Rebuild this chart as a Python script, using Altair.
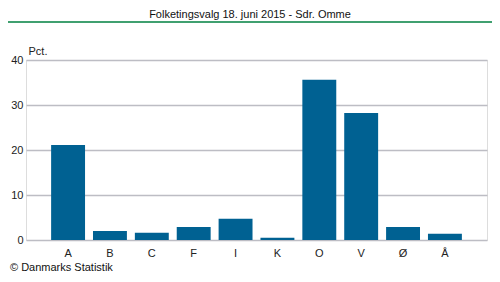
import altair as alt
import pandas as pd

parties = ["A", "B", "C", "F", "I", "K", "O", "V", "Ø", "Å"]
values = [21.1, 2.0, 1.6, 2.9, 4.7, 0.5, 35.6, 28.2, 2.9, 1.4]
title_text = "Folketingsvalg 18. juni 2015 - Sdr. Omme"
footer_text = "© Danmarks Statistik"
unit_text = "Pct."

df = pd.DataFrame({"parti": parties, "pct": values})
FONT = "Liberation Sans"

bars = alt.Chart(df).mark_bar(color="#006192").encode(
    x=alt.X("parti:N", sort=parties,
            scale=alt.Scale(paddingInner=0.19, paddingOuter=0.6),
            axis=alt.Axis(title=None, labelAngle=0, ticks=False, domain=False,
                          labelPadding=7, labelFont=FONT, labelFontSize=11,
                          labelColor="#222222")),
    y=alt.Y("pct:Q", scale=alt.Scale(domain=[0, 40]),
            axis=alt.Axis(values=[0, 10, 20, 30, 40], title=unit_text, titleAngle=0,
                          titleAlign="left", titleBaseline="middle", titleX=2, titleY=-9,
                          titleFont=FONT, titleFontSize=11, titleFontWeight="normal",
                          titleColor="#222222",
                          ticks=False, domain=False, labelPadding=3,
                          labelFont=FONT, labelFontSize=11, labelColor="#222222",
                          grid=True, gridColor="#bdbdc4", gridWidth=1.5)),
)

title = alt.Chart(pd.DataFrame({"t": [title_text]})).mark_text(
    font=FONT, fontSize=11, color="#111111", align="center", baseline="middle"
).encode(text="t:N", x=alt.value(224), y=alt.value(-45))

footer = alt.Chart(pd.DataFrame({"t": [footer_text]})).mark_text(
    font=FONT, fontSize=11, color="#111111", align="left", baseline="middle"
).encode(text="t:N", x=alt.value(-16), y=alt.value(30 + 180 - 2 - 180 + 180))

topline = alt.Chart(pd.DataFrame({"a": [0]})).mark_rule(color="#008040", strokeWidth=1.5).encode(
    x=alt.value(-18), x2=alt.value(466), y=alt.value(-38))

chart = alt.layer(bars, title, footer, topline).properties(
    width=461, height=180,
    padding={"left": 18, "top": 52, "right": 5, "bottom": 32},
    autosize=alt.AutoSizeParams(type="none"),
).configure_view(stroke=None).configure(background="white")

chart.save("out.html", embed_options={"renderer": "svg", "actions": False})
